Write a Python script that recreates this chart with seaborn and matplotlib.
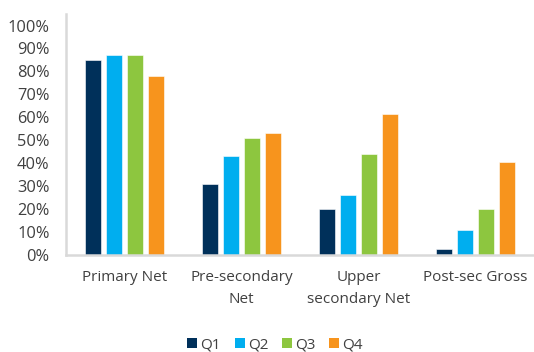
import matplotlib
matplotlib.use("Agg")
import matplotlib.pyplot as plt
import seaborn as sns
import pandas as pd
from matplotlib.ticker import PercentFormatter
from matplotlib.patches import Patch

categories = ["Primary Net", "Pre-secondary\nNet", "Upper\nsecondary Net", "Post-sec Gross"]
quintiles = ["Q1", "Q2", "Q3", "Q4"]
q1 = [0.85, 0.31, 0.20, 0.024]
q2 = [0.87, 0.43, 0.26, 0.107]
q3 = [0.87, 0.51, 0.44, 0.198]
q4 = [0.78, 0.53, 0.615, 0.405]
colors = ["#00305A", "#00AEEF", "#8DC63F", "#F7941D"]
yticks = [i / 10 for i in range(11)]

rows = []
for q, vals in zip(quintiles, [q1, q2, q3, q4]):
    for c, v in zip(categories, vals):
        rows.append({"cat": c, "q": q, "v": v})
df = pd.DataFrame(rows)

sns.set_theme(style="white")
plt.rcParams["font.family"] = ["Open Sans", "DejaVu Sans"]

fig = plt.figure(figsize=(5.34, 3.52), dpi=100)
ax = fig.add_axes([0.124, 0.276, 0.876, 0.684])

sns.barplot(data=df, x="cat", y="v", hue="q", order=categories, hue_order=quintiles,
            palette=colors, width=0.72, gap=0.24, ax=ax, legend=False,
            edgecolor="white", linewidth=0.4, saturation=1)

ax.set_ylim(0, 1.05)
ax.set_yticks(yticks)
ax.yaxis.set_major_formatter(PercentFormatter(1.0, decimals=0))
ax.set_xlim(-0.5, 3.5)
ax.set_xlabel("")
ax.set_ylabel("")
for s in ["top", "right"]:
    ax.spines[s].set_visible(False)
for s in ["left", "bottom"]:
    ax.spines[s].set_color("#D9D9D9")
    ax.spines[s].set_linewidth(1.8)
ax.tick_params(axis="x", length=0, labelsize=11, colors="#404040", pad=11)
ax.tick_params(axis="y", length=0, labelsize=11.8, colors="#404040", pad=12)
for lbl in ax.get_xticklabels():
    lbl.set_linespacing(1.6)

handles = [Patch(facecolor=c, edgecolor="none") for c in colors]
fig.legend(handles, quintiles, loc="center", bbox_to_anchor=(0.515, 0.02), ncol=4,
           frameon=False, fontsize=11, handlelength=0.65, handleheight=0.65,
           handletextpad=0.2, columnspacing=0.9, labelcolor="#404040")

fig.savefig("out.png", dpi=100)
